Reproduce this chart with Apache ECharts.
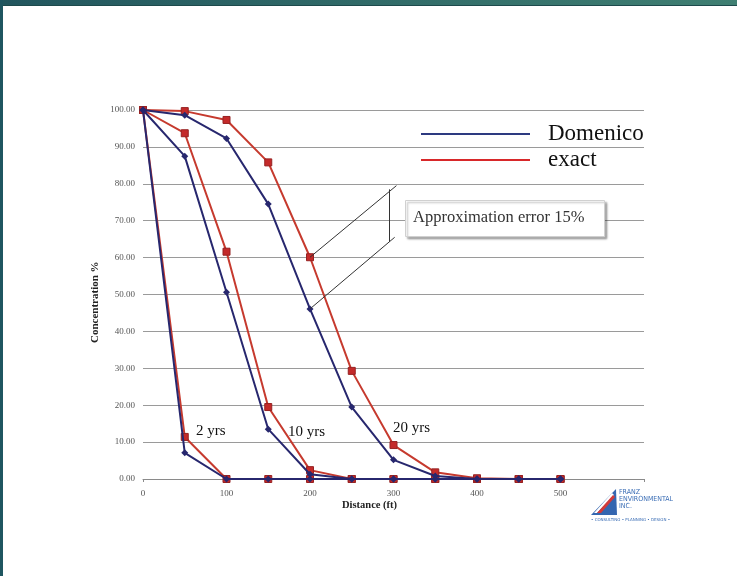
<!DOCTYPE html>
<html>
<head>
<meta charset="utf-8">
<script src="https://cdn.jsdelivr.net/npm/echarts@6/dist/echarts.min.js"></script>
<style>
html,body{margin:0;padding:0;background:#fff;}
#c{width:737px;height:576px;}
</style>
</head>
<body>
<div id="c"></div>
<script>
// ---- data ----
const distances = [0, 50, 100, 150, 200, 250, 300, 350, 400, 450, 500];
const xTickLabels = ['0', '100', '200', '300', '400', '500'];
const domenico2 = [100, 7.1, 0, 0, 0, 0, 0, 0, 0, 0, 0];
const exact2 = [100, 11.4, 0, 0, 0, 0, 0, 0, 0, 0, 0];
const domenico10 = [100, 87.5, 50.6, 13.5, 1.3, 0, 0, 0, 0, 0, 0];
const exact10 = [100, 93.7, 61.6, 19.5, 2.4, 0, 0, 0, 0, 0, 0];
const domenico20 = [100, 98.6, 92.3, 74.5, 46.1, 19.5, 5.2, 0.8, 0, 0, 0];
const exact20 = [100, 99.7, 97.3, 85.8, 60.1, 29.3, 9.2, 1.8, 0.2, 0, 0];
const periodLabels = ['2 yrs', '10 yrs', '20 yrs'];
const legendNames = ['Domenico', 'exact'];
const annotationText = 'Approximation error 15%';

const NAVY = '#27276e';
const RED = '#c63a2e';
const SERIF = '"Liberation Serif", "DejaVu Serif", serif';

function pairs(ys) { return distances.map((x, i) => [x, ys[i]]); }

function exactSeries(ys) {
  return {
    name: legendNames[1], type: 'line', data: pairs(ys),
    symbol: 'rect', symbolSize: 7,
    lineStyle: { color: RED, width: 2 },
    itemStyle: { color: '#c42a2a', borderColor: '#962222', borderWidth: 1 },
    emphasis: { disabled: true }, z: 2
  };
}
function domSeries(ys) {
  return {
    name: legendNames[0], type: 'line', data: pairs(ys),
    symbol: 'diamond', symbolSize: 7,
    lineStyle: { color: NAVY, width: 2 },
    itemStyle: { color: NAVY },
    emphasis: { disabled: true }, z: 3
  };
}

const chart = echarts.init(document.getElementById('c'), null, { renderer: 'canvas' });
const ex20 = exactSeries(exact20);
ex20.markLine = {
  silent: true, symbol: 'none', label: { show: false },
  lineStyle: { color: '#333', width: 1, type: 'solid' },
  data: [
    [{ coord: [200, 60.1] }, { coord: [303.5, 79.5] }],
    [{ coord: [295.5, 78.5] }, { coord: [295.5, 64.3] }],
    [{ coord: [200, 46.1] }, { coord: [301.4, 65.5] }]
  ]
};

const option = {
  animation: false,
  backgroundColor: '#ffffff',
  grid: { left: 143, right: 93, top: 110, bottom: 97, containLabel: false },
  xAxis: {
    type: 'value', min: 0, max: 600, interval: 100,
    axisLine: { show: true, lineStyle: { color: '#8a8a8a', width: 1 } },
    axisTick: { show: true, length: 3, lineStyle: { color: '#8a8a8a' } },
    splitLine: { show: false },
    axisLabel: {
      fontFamily: SERIF, fontSize: 9, color: '#555', margin: 10,
      formatter: v => (xTickLabels.indexOf(String(v)) >= 0 ? String(v) : '')
    }
  },
  yAxis: {
    type: 'value', min: 0, max: 100, interval: 10,
    axisLine: { show: false }, axisTick: { show: false },
    splitLine: { show: true, lineStyle: { color: '#9a9a9a', width: 1 } },
    axisLabel: {
      fontFamily: SERIF, fontSize: 9, color: '#555', margin: 8,
      formatter: v => v.toFixed(2)
    }
  },
  legend: {
    show: true, orient: 'vertical', left: 421, top: 122, padding: 0,
    itemWidth: 109, itemHeight: 2, itemGap: 2, icon: 'rect',
    selectedMode: false,
    textStyle: { fontFamily: SERIF, fontSize: 23, color: '#111', lineHeight: 24, padding: [0, 0, 0, 13] },
    data: [
      { name: legendNames[0], itemStyle: { color: '#2d3a80', borderWidth: 0 } },
      { name: legendNames[1], itemStyle: { color: '#d8282a', borderWidth: 0 } }
    ]
  },
  series: [
    exactSeries(exact2), exactSeries(exact10), ex20,
    domSeries(domenico2), domSeries(domenico10), domSeries(domenico20)
  ],
  graphic: [
    // slide frame
    { type: 'rect', left: 0, top: 0, shape: { width: 737, height: 5 }, silent: true,
      style: { fill: new echarts.graphic.LinearGradient(0, 0, 1, 0, [
        { offset: 0, color: '#22565e' }, { offset: 1, color: '#3f7f72' }]) } },
    { type: 'rect', left: 0, top: 5, shape: { width: 737, height: 1 }, silent: true, style: { fill: '#1d4a4c' } },
    { type: 'rect', left: 0, top: 0, shape: { width: 3, height: 576 }, silent: true, style: { fill: '#1f5660' } },
    // axis titles
    { type: 'text', left: 342, top: 500, silent: true,
      style: { text: 'Distance (ft)', font: 'bold 10.5px ' + SERIF, fill: '#222' } },
    { type: 'text', x: 90, y: 343, rotation: Math.PI / 2, silent: true,
      style: { text: 'Concentration %', font: 'bold 11px ' + SERIF, fill: '#222', verticalAlign: 'top' } },
    // period labels
    { type: 'text', left: 196, top: 424, silent: true, style: { text: periodLabels[0], font: '15px ' + SERIF, fill: '#111' } },
    { type: 'text', left: 288, top: 425, silent: true, style: { text: periodLabels[1], font: '15px ' + SERIF, fill: '#111' } },
    { type: 'text', left: 393, top: 421, silent: true, style: { text: periodLabels[2], font: '15px ' + SERIF, fill: '#111' } },
    // annotation box
    { type: 'rect', left: 405, top: 200, z: 10, shape: { width: 199, height: 36 }, silent: true,
      style: { fill: '#fff', stroke: '#d0d0d0', lineWidth: 1, shadowColor: 'rgba(0,0,0,0.3)', shadowBlur: 2, shadowOffsetX: 2, shadowOffsetY: 2 } },
    { type: 'text', x: 413, y: 218, z: 11, silent: true,
      style: { text: annotationText, font: '16.5px ' + SERIF, fill: '#333', verticalAlign: 'middle' } },
    // logo
    { type: 'polygon', silent: true, shape: { points: [[591, 515], [616, 489], [617, 515]] }, style: { fill: '#3466b0' } },
    { type: 'polygon', silent: true, shape: { points: [[594, 513], [612, 493], [614, 495], [597, 513]] }, style: { fill: '#ffffff' } },
    { type: 'polygon', silent: true, shape: { points: [[597, 513], [613, 495], [615, 497], [601, 513]] }, style: { fill: '#d23a3a' } },
    { type: 'text', left: 619, top: 489, silent: true, style: { text: 'FRANZ', font: '7px "DejaVu Sans Condensed", sans-serif', fill: '#3a6db5' } },
    { type: 'text', left: 619, top: 496, silent: true, style: { text: 'ENVIRONMENTAL', font: '7px "DejaVu Sans Condensed", sans-serif', fill: '#3a6db5' } },
    { type: 'text', left: 619, top: 503, silent: true, style: { text: 'INC.', font: '7px "DejaVu Sans Condensed", sans-serif', fill: '#3a6db5' } },
    { type: 'text', left: 591, top: 518, silent: true, style: { text: '• CONSULTING • PLANNING • DESIGN •', font: '4px "DejaVu Sans", sans-serif', fill: '#3a6db5' } }
  ]
};
chart.setOption(option);
</script>
</body>
</html>
